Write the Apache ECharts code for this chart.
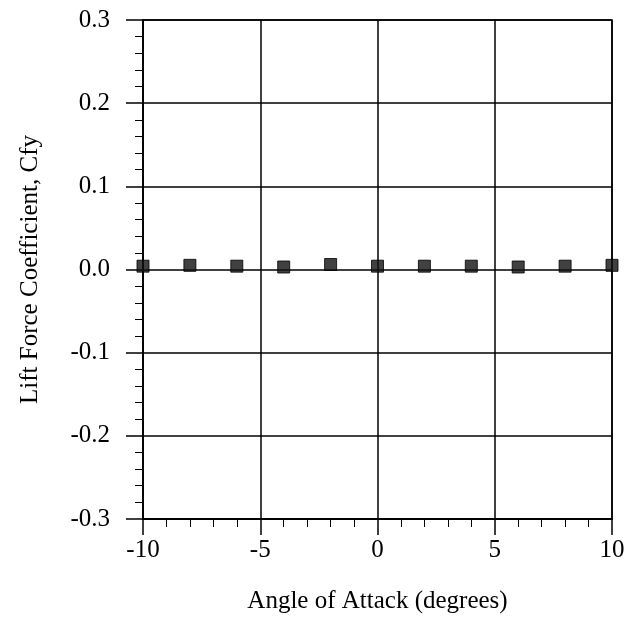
<!DOCTYPE html>
<html><head><meta charset="utf-8">
<script src="https://cdn.jsdelivr.net/npm/echarts@6/dist/echarts.min.js"></script>
<style>html,body{margin:0;padding:0;background:#fff}#c{width:630px;height:626px}</style>
</head><body><div id="c"></div>
<script>
const angles = [-10, -8, -6, -4, -2, 0, 2, 4, 6, 8, 10];
const cfy = [0.004, 0.005, 0.004, 0.003, 0.006, 0.004, 0.004, 0.004, 0.003, 0.004, 0.005];
const xTitle = 'Angle of Attack (degrees)';
const yTitle = 'Lift Force Coefficient, Cfy';

const font = 'Liberation Serif';
const chart = echarts.init(document.getElementById('c'));
chart.setOption({
  animation: false,
  backgroundColor: '#fff',
  grid: {left: 143, right: 18, top: 20, bottom: 107, show: true, borderColor: '#000', borderWidth: 1.5},
  xAxis: {
    type: 'value', min: -10, max: 10, interval: 5,
    name: xTitle, nameLocation: 'middle', nameGap: 70,
    nameTextStyle: {fontFamily: font, fontSize: 25, color: '#000'},
    axisLine: {onZero: false, lineStyle: {color: '#000', width: 1.5}},
    axisTick: {show: true, inside: false, length: 16, lineStyle: {color: '#000', width: 1.5}},
    minorTick: {show: true, splitNumber: 5, length: 8, lineStyle: {color: '#000', width: 1}},
    splitLine: {show: true, lineStyle: {color: '#000', width: 1.5}},
    axisLabel: {fontFamily: font, fontSize: 25, color: '#000', margin: 19}
  },
  yAxis: {
    type: 'value', min: -0.3, max: 0.3, interval: 0.1,
    name: yTitle, nameLocation: 'middle', nameGap: 100,
    nameTextStyle: {fontFamily: font, fontSize: 25, color: '#000'},
    axisLine: {onZero: false, lineStyle: {color: '#000', width: 1.5}},
    axisTick: {show: true, inside: false, length: 17, lineStyle: {color: '#000', width: 1.5}},
    minorTick: {show: true, splitNumber: 5, length: 8, lineStyle: {color: '#000', width: 1}},
    splitLine: {show: true, lineStyle: {color: '#000', width: 1.5}},
    axisLabel: {fontFamily: font, fontSize: 25, color: '#000', margin: 33,
      formatter: v => v.toFixed(1)}
  },
  series: [{
    type: 'scatter',
    data: angles.map((a, i) => [a, cfy[i]]),
    symbol: 'rect', symbolSize: 12,
    itemStyle: {color: '#111', borderColor: '#000', borderWidth: 1}
  }]
});
</script></body></html>
